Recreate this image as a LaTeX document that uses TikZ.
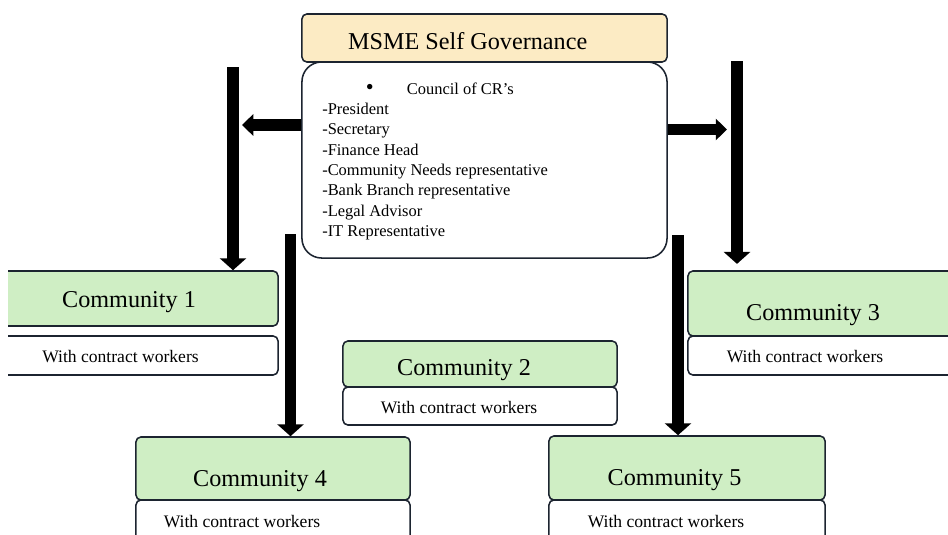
\documentclass[tikz,border=0pt]{standalone}
\usepackage{fontspec}
\setmainfont{Liberation Serif}
\usepackage{tikz}
\usetikzlibrary{arrows.meta}
\definecolor{govyellow}{RGB}{252,235,196}
\definecolor{comgreen}{RGB}{207,238,196}
\definecolor{boxline}{RGB}{28,36,48}

\begin{document}
\begin{tikzpicture}[
  x=0.025cm, y=-0.025cm,
  every node/.style = {inner sep=0pt},
  head/.style = {rectangle, rounded corners=3.5pt, draw=boxline,
                 line width=1.1pt, fill=comgreen},
  foot/.style = {rectangle, rounded corners=3.5pt, draw=boxline,
                 line width=1.1pt, fill=white},
  big/.style  = {font=\fontsize{17.2}{20}\selectfont, anchor=base},
  small/.style= {font=\fontsize{12.5}{15}\selectfont, anchor=base},
  vbar/.style = {line width=8.5pt, -{Triangle[length=8.5pt, width=18.5pt]}},
  hbar/.style = {line width=8.2pt, -{Triangle[length=8pt, width=15pt]}}
]
\useasboundingbox (0,0) rectangle (948,534);
\clip (8,0) rectangle (948,534);

%% ── Governance block ──────────────────────────────────────────────────────
\node[rectangle, rounded corners=14pt, draw=boxline, line width=1.1pt,
      fill=white, minimum width=9.125cm, minimum height=4.9cm]
  (crs) at (484.5, 160) {};
\node[rectangle, rounded corners=3.5pt, draw=boxline, line width=1.1pt,
      fill=govyellow, minimum width=9.125cm, minimum height=1.2cm]
  (ttl) at (484.5, 38) {};
\node[big] (ttltxt) at (467.7, 49) {MSME Self Governance};

%% base of a multi-line node = baseline of its last line
\node[anchor=base west, align=left, font=\fontsize{11.7}{14.45}\selectfont]
  (crslist) at (322, 236.4)
  {\makebox[60.2pt][l]{\hspace*{31pt}{\fontsize{16}{14}\selectfont\textbullet}}Council of CR’s\\
   -President\\
   -Secretary\\
   -Finance Head\\
   -Community Needs representative\\
   -Bank Branch representative\\
   -Legal Advisor\\
   -IT Representative};

%% ── Communities ───────────────────────────────────────────────────────────
\node[head, minimum width=7.25cm, minimum height=1.375cm] (c1h) at (133, 298.5) {};
\node[foot, minimum width=7.25cm, minimum height=0.975cm] (c1f) at (133, 355.5) {};
\node[big]   (c1txt) at (129, 307)   {Community 1};
\node[small] (c1wrk) at (120.5, 362.5) {With contract workers};

\node[head, minimum width=6.85cm, minimum height=1.15cm] (c2h) at (480, 364) {};
\node[foot, minimum width=6.85cm, minimum height=0.95cm] (c2f) at (480, 406) {};
\node[big]   (c2txt) at (464, 375) {Community 2};
\node[small] (c2wrk) at (459, 413) {With contract workers};

\node[head, minimum width=7.0cm, minimum height=1.625cm] (c3h) at (828, 303.5) {};
\node[foot, minimum width=7.0cm, minimum height=0.975cm] (c3f) at (828, 355.5) {};
\node[big]   (c3txt) at (813, 320)   {Community 3};
\node[small] (c3wrk) at (805, 362.5) {With contract workers};

\node[head, minimum width=6.85cm, minimum height=1.575cm] (c4h) at (273, 468.5) {};
\node[foot, minimum width=6.85cm, minimum height=1.5cm]   (c4f) at (273, 530) {};
\node[big]   (c4txt) at (260, 486.5) {Community 4};
\node[small] (c4wrk) at (242, 527)   {With contract workers};

\node[head, minimum width=6.9cm, minimum height=1.6cm] (c5h) at (687, 468) {};
\node[foot, minimum width=6.9cm, minimum height=1.5cm] (c5f) at (687, 530) {};
\node[big]   (c5txt) at (674.5, 485) {Community 5};
\node[small] (c5wrk) at (666, 527)   {With contract workers};

%% ── Arrows ────────────────────────────────────────────────────────────────
\coordinate (v1) at (233, 67);
\coordinate (v2) at (290.5, 234);
\coordinate (v3) at (737, 61);
\coordinate (v4) at (678, 235);
\coordinate (hl) at (242, 125);
\coordinate (hr) at (727, 129.5);

\draw[hbar] (crs.west |- hl) -- (hl);
\draw[hbar] (crs.east |- hr) -- (hr);
\draw[vbar] (v1) -- (v1 |- c1h.north);
\draw[vbar] (v2) -- (v2 |- c4h.north);
\draw[vbar, shorten >=4.5pt] (v3) -- (v3 |- c3h.north);
\draw[vbar] (v4) -- (v4 |- c5h.north);

\end{tikzpicture}
\end{document}
